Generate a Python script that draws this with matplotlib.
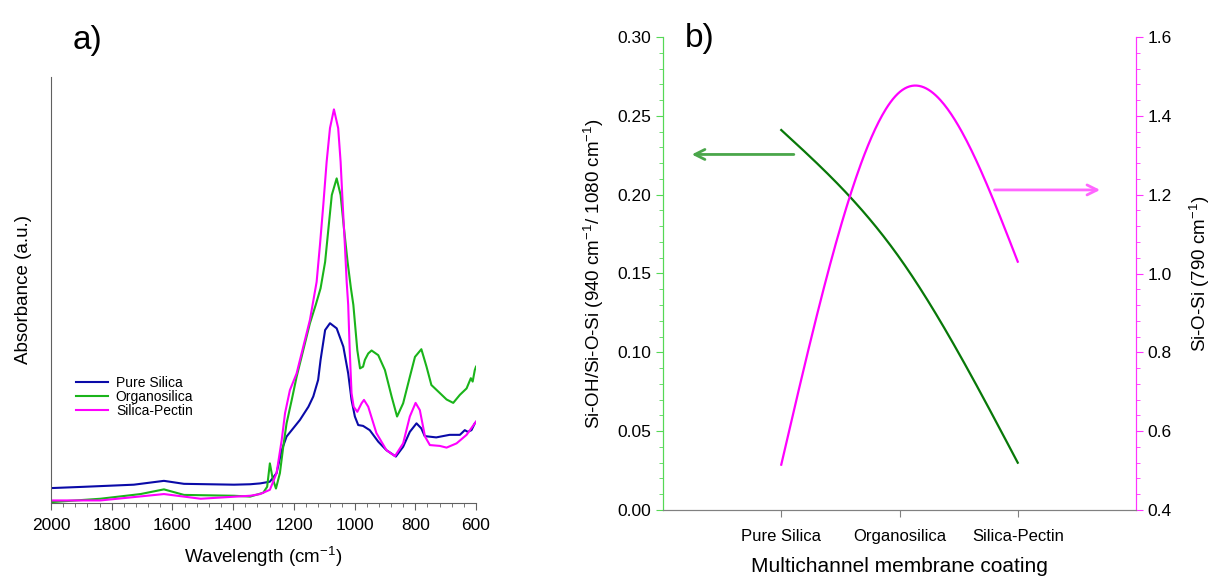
import numpy as np
import matplotlib
matplotlib.use("Agg")
import matplotlib.pyplot as plt
from matplotlib.ticker import MultipleLocator

plt.rcParams['font.family'] = ['Liberation Sans', 'DejaVu Sans']

# ---- panel a) FTIR spectra (absorbance in arbitrary units, 0-100 of axis height)
wn_blue = [2000, 1892, 1727, 1628, 1562, 1397, 1344, 1311, 1279, 1257, 1240, 1224, 1207, 1180,
           1152, 1136, 1120, 1112, 1097, 1081, 1059, 1037, 1021, 1010, 999, 988, 972, 950,
           922, 895, 864, 840, 818, 796, 780, 769, 731, 687, 653, 637, 627, 615, 604, 600]
abs_blue = [3.5, 3.8, 4.3, 5.2, 4.5, 4.3, 4.4, 4.6, 5.0, 7.0, 12.4, 15.6, 17.1, 19.5,
            22.6, 25.0, 28.9, 33.6, 40.6, 42.2, 41.0, 36.7, 30.4, 24.2, 20.3, 18.3, 18.1, 17.1,
            14.4, 12.4, 10.9, 13.2, 16.7, 18.7, 17.5, 15.7, 15.4, 16.0, 16.0, 17.1, 16.7, 17.1, 18.7, 19.0]

wn_green = [2000, 1837, 1705, 1628, 1562, 1397, 1344, 1301, 1288, 1279, 1270, 1259, 1246, 1235,
            1224, 1207, 1191, 1169, 1147, 1128, 1112, 1097, 1086, 1075, 1059, 1046, 1035, 1023,
            1012, 1004, 991, 982, 972, 966, 955, 944, 922, 900, 878, 860, 840, 818, 801, 780,
            763, 747, 719, 697, 675, 653, 631, 617, 611, 604, 600]
abs_green = [0.2, 1.0, 2.1, 3.2, 1.9, 1.7, 1.5, 2.4, 3.8, 9.3, 5.8, 3.4, 7.0, 13.2,
             18.7, 24.2, 29.6, 35.9, 42.2, 46.5, 50.4, 56.6, 64.5, 72.3, 76.2, 72.3, 64.5, 56.6,
             50.4, 46.5, 35.9, 31.6, 32.0, 33.6, 35.1, 35.8, 34.7, 31.2, 25.0, 20.3, 23.4, 29.6, 34.3, 36.1,
             32.0, 27.7, 25.8, 24.3, 23.5, 25.4, 26.9, 29.3, 28.5, 31.2, 32.0]

wn_mag = [2000, 1837, 1628, 1507, 1344, 1311, 1279, 1257, 1240, 1229, 1213, 1191, 1169, 1147,
          1125, 1114, 1103, 1092, 1081, 1068, 1054, 1046, 1039, 1032, 1026, 1021, 1016, 1010,
          1003, 991, 977, 969, 955, 928, 895, 867, 840, 818, 799, 785, 768, 752, 719, 697,
          664, 631, 600]
abs_mag = [0.6, 0.6, 2.1, 1.0, 1.7, 2.1, 3.1, 7.0, 14.8, 21.1, 26.5, 30.4, 36.7, 43.0,
           51.9, 60.6, 70.0, 80.1, 88.0, 92.4, 88.0, 80.1, 70.0, 60.6, 51.9, 46.5, 35.9, 25.8,
           22.6, 21.4, 23.4, 24.2, 22.6, 16.4, 12.4, 11.0, 14.0, 20.3, 23.5, 21.8, 15.6, 13.6, 13.4, 13.0,
           14.0, 16.0, 19.1]

# ---- panel b) band ratios per coating
coatings = ["Pure Silica", "Organosilica", "Silica-Pectin"]
ratio_oh = [0.241, 0.160, 0.030]     # Si-OH/Si-O-Si, left axis
siosi_790 = [0.515, 1.46, 1.03]      # Si-O-Si (790), right axis


def natural_spline(x, y, n=200):
    # smooth curve through the points, like the original plotting program
    x = np.asarray(x, float)
    y = np.asarray(y, float)
    h = np.diff(x)
    m = len(x)
    A = np.zeros((m, m))
    r = np.zeros(m)
    A[0, 0] = A[-1, -1] = 1
    for i in range(1, m - 1):
        A[i, i - 1] = h[i - 1]
        A[i, i] = 2 * (h[i - 1] + h[i])
        A[i, i + 1] = h[i]
        r[i] = 6 * ((y[i + 1] - y[i]) / h[i] - (y[i] - y[i - 1]) / h[i - 1])
    M = np.linalg.solve(A, r)
    xs = np.linspace(x[0], x[-1], n)
    k = np.clip(np.searchsorted(x, xs) - 1, 0, m - 2)
    a = x[k + 1] - xs
    b = xs - x[k]
    hk = h[k]
    ys = (M[k] * a**3 + M[k + 1] * b**3) / (6 * hk) + (y[k] / hk - M[k] * hk / 6) * a \
        + (y[k + 1] / hk - M[k + 1] * hk / 6) * b
    return xs, ys


inv_cm = r"cm$^{\mathregular{-1}}$"

fig = plt.figure(figsize=(12.11, 5.78), dpi=100)
fig.set_facecolor("white")

# ------------------ a) ----------------------
ax1 = fig.add_axes([51 / 1211, 1 - 503 / 578, 425 / 1211, 426 / 578])
ax1.plot(wn_blue, abs_blue, color="#0a0aa8", lw=1.5, label="Pure Silica")
ax1.plot(wn_green, abs_green, color="#1ab41a", lw=1.5, label="Organosilica")
ax1.plot(wn_mag, abs_mag, color="#ff00ff", lw=1.5, label="Silica-Pectin")
ax1.set_xlim(2000, 600)
ax1.set_ylim(0, 100)
ax1.set_yticks([])
ax1.xaxis.set_major_locator(MultipleLocator(200))
ax1.xaxis.set_minor_locator(MultipleLocator(40))
ax1.tick_params(axis="x", which="major", direction="out", length=5, labelsize=12.5, pad=6, color="#606060")
ax1.tick_params(axis="x", which="minor", direction="out", length=3, color="#606060")
for s in ["top", "right"]:
    ax1.spines[s].set_visible(False)
for s in ["left", "bottom"]:
    ax1.spines[s].set_color("#606060")
ax1.set_xlabel("Wavelength (" + inv_cm + ")", fontsize=13.5, labelpad=8)
ax1.set_ylabel("Absorbance (a.u.)", fontsize=13.5, labelpad=14)
ax1.legend(loc="upper left", bbox_to_anchor=(0.035, 0.322), frameon=False, fontsize=10,
           handlelength=2.3, labelspacing=0.0, handletextpad=0.6, borderpad=0.2)
fig.text(88 / 1211, 1 - 40 / 578, "a)", fontsize=24, ha="center", va="center")

# ------------------ b) ----------------------
ax2 = fig.add_axes([663 / 1211, 1 - 510 / 578, 473 / 1211, 473 / 578])
ax3 = ax2.twinx()
xpos = np.arange(1, len(coatings) + 1)
xg, yg = natural_spline(xpos, ratio_oh)
ax2.plot(xg, yg, color="#087808", lw=1.6)
xm, ym = natural_spline(xpos, siosi_790)
ax3.plot(xm, ym, color="#ff00ff", lw=1.6)

ax2.set_xlim(0, 4)
ax2.set_ylim(0, 0.30)
ax3.set_ylim(0.4, 1.6)
ax2.set_xticks(xpos)
ax2.set_xticklabels(coatings)
ax2.yaxis.set_major_locator(MultipleLocator(0.05))
ax2.yaxis.set_minor_locator(MultipleLocator(0.01))
ax2.yaxis.set_major_formatter(plt.FormatStrFormatter("%.2f"))
ax3.yaxis.set_major_locator(MultipleLocator(0.2))
ax3.yaxis.set_minor_locator(MultipleLocator(0.04))
ax3.yaxis.set_major_formatter(plt.FormatStrFormatter("%.1f"))

green_ax = "#55d855"
mag_ax = "#ff33ff"
ax2.tick_params(axis="x", direction="out", length=5, labelsize=12, pad=9, color="#808080")
ax2.tick_params(axis="y", which="major", direction="out", length=5, labelsize=12.5, color=green_ax)
ax2.tick_params(axis="y", which="minor", direction="out", length=3, color=green_ax)
ax3.tick_params(axis="y", which="major", direction="out", length=5, labelsize=12.5, color=mag_ax)
ax3.tick_params(axis="y", which="minor", direction="out", length=3, color=mag_ax)
for a in (ax2, ax3):
    a.spines["top"].set_visible(False)
    a.spines["bottom"].set_color("#808080")
    a.spines["left"].set_color(green_ax)
    a.spines["right"].set_color(mag_ax)

ax2.set_xlabel("Multichannel membrane coating", fontsize=15, labelpad=9)
ax2.set_ylabel("Si-OH/Si-O-Si (940 " + inv_cm + "/ 1080 " + inv_cm + ")", fontsize=13.5, labelpad=8)
ax3.set_ylabel("Si-O-Si (790 " + inv_cm + ")", fontsize=13.5, labelpad=11)

ax2.annotate("", xy=(0.22, 0.2255), xytext=(1.13, 0.2255),
             arrowprops=dict(arrowstyle="->", color="#4aa64a", lw=2, mutation_scale=18))
ax3.annotate("", xy=(3.72, 1.212), xytext=(2.78, 1.212),
             arrowprops=dict(arrowstyle="->", color="#ff66ff", lw=2, mutation_scale=18))
fig.text(700 / 1211, 1 - 38 / 578, "b)", fontsize=24, ha="center", va="center")

fig.savefig("out.png", dpi=100)
